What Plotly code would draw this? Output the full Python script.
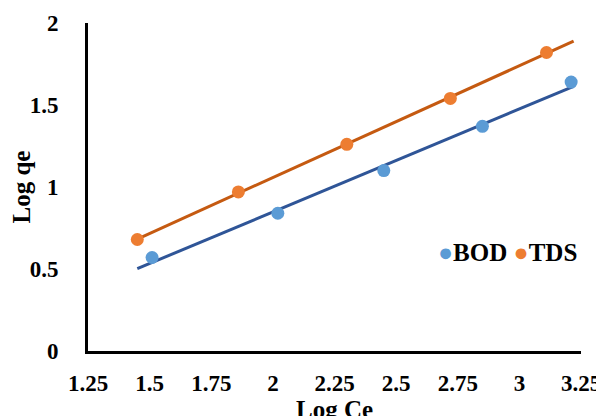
import numpy as np
import plotly.graph_objects as go

# Data
bod_x = [1.51, 2.02, 2.45, 2.85, 3.21]
bod_y = [0.57, 0.84, 1.10, 1.37, 1.64]
tds_x = [1.45, 1.86, 2.30, 2.72, 3.11]
tds_y = [0.68, 0.97, 1.26, 1.54, 1.82]
trend_x_range = [1.45, 3.22]
x_ticks = [1.25, 1.5, 1.75, 2, 2.25, 2.5, 2.75, 3, 3.25]
y_ticks = [0, 0.5, 1, 1.5, 2]
series_names = ["BOD", "TDS"]
marker_colors = ["#5B9BD5", "#ED7D31"]
trend_colors = ["#2F5597", "#C55A11"]

font = "Liberation Serif, Times New Roman, serif"

def fit(xs, ys):
    m, b = np.polyfit(xs, ys, 1)
    xr = np.array(trend_x_range)
    return xr, m * xr + b

fig = go.Figure()
for xs, ys, c in [(bod_x, bod_y, trend_colors[0]), (tds_x, tds_y, trend_colors[1])]:
    fx, fy = fit(xs, ys)
    fig.add_trace(go.Scatter(x=fx, y=fy, mode="lines", line=dict(color=c, width=3),
                             showlegend=False, hoverinfo="skip"))
for xs, ys, n, c in [(bod_x, bod_y, series_names[0], marker_colors[0]),
                     (tds_x, tds_y, series_names[1], marker_colors[1])]:
    fig.add_trace(go.Scatter(x=xs, y=ys, mode="markers", name=n,
                             marker=dict(color=c, size=13), showlegend=False))

legend_text = "&nbsp;".join(
    f"<span style='color:{c};font-size:25px'>●</span><b>{n}</b>"
    for n, c in zip(series_names, marker_colors)
)
fig.add_annotation(text=legend_text, xref="paper", yref="paper", x=0.705, y=0.30,
                   xanchor="left", yanchor="middle", showarrow=False,
                   font=dict(family=font, size=25, color="black"))

fig.update_layout(
    template="none",
    width=604, height=416,
    margin=dict(l=80, r=31, t=15, b=73, autoexpand=False),
    plot_bgcolor="white", paper_bgcolor="white",
    font=dict(family=font, size=23, color="black"),
    showlegend=False,
    xaxis=dict(range=[1.25, 3.25], tickvals=x_ticks, ticktext=[f"<b>{v:g}</b>" for v in x_ticks],
               showgrid=False, zeroline=False, showline=True, linecolor="black", linewidth=3,
               ticks="", ticklabelstandoff=9, automargin=False,
               title=dict(text="<b>Log Ce</b>", font=dict(size=25), standoff=0)),
    yaxis=dict(range=[0, 2], tickvals=y_ticks, ticktext=[f"<b>{v:g}</b>" for v in y_ticks],
               showgrid=False, zeroline=False, showline=True, linecolor="black", linewidth=3,
               ticks="", ticklabelstandoff=22, automargin=False,
               title=dict(text="<b>Log qe</b>", font=dict(size=25), standoff=4)),
)

fig.write_html("out.html")
